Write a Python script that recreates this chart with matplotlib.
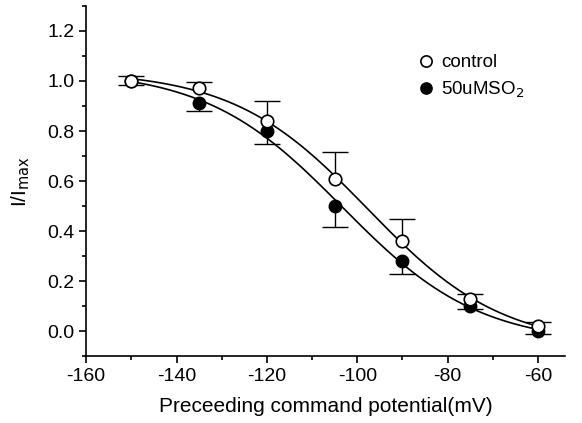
import numpy as np
import matplotlib
matplotlib.use("Agg")
import matplotlib.pyplot as plt
from matplotlib.ticker import MultipleLocator, FormatStrFormatter

plt.rcParams['font.family'] = ['Liberation Sans', 'DejaVu Sans']
plt.rcParams['axes.unicode_minus'] = False

# data
voltage = np.array([-150, -135, -120, -105, -90, -75, -60])
control = np.array([1.00, 0.97, 0.84, 0.61, 0.36, 0.13, 0.02])
control_err = np.array([0.02, 0.025, 0.08, 0.105, 0.09, 0.02, 0.015])
so2 = np.array([1.00, 0.91, 0.80, 0.50, 0.28, 0.10, 0.00])
so2_err = np.array([0.015, 0.03, 0.05, 0.085, 0.05, 0.012, 0.012])


def boltzmann(x, p):
    a1, a2, x0, dx = p
    return a2 + (a1 - a2) / (1 + np.exp((x - x0) / dx))


def fit_boltzmann(x, y, p0):
    # plain Gauss-Newton with numeric jacobian
    p = np.array(p0, dtype=float)
    for _ in range(50):
        r = y - boltzmann(x, p)
        J = np.zeros((len(x), len(p)))
        for i in range(len(p)):
            dp = np.zeros_like(p)
            dp[i] = 1e-6 * max(1.0, abs(p[i]))
            J[:, i] = (boltzmann(x, p + dp) - boltzmann(x, p)) / dp[i]
        step, *_ = np.linalg.lstsq(J, r, rcond=None)
        p = p + 0.7 * step
    return p


def one_sided_errorbar(ax, x, y, err, up=True):
    lo = np.zeros_like(err) if up else err
    hi = err if up else np.zeros_like(err)
    _, caps, _ = ax.errorbar(x, y, yerr=[lo, hi], fmt='none', ecolor='k',
                             elinewidth=1, capsize=9.5, capthick=1)
    # hide the caps sitting on the points themselves
    for c in caps:
        if np.allclose(c.get_ydata(), y):
            c.set_visible(False)


p_ctrl = fit_boltzmann(voltage, control, [1.02, 0.0, -100, 13])
p_so2 = fit_boltzmann(voltage, so2, [1.02, 0.0, -104, 13])

fig = plt.figure(figsize=(5.82, 4.23), dpi=100)
ax = fig.add_axes([0.148, 0.158, 0.823, 0.828])

xx = np.linspace(-150, -60, 300)
ax.plot(xx, boltzmann(xx, p_ctrl), color='k', lw=1.2)
ax.plot(xx, boltzmann(xx, p_so2), color='k', lw=1.2)

# control bars go up, SO2 bars go down
one_sided_errorbar(ax, voltage, control, control_err, up=True)
one_sided_errorbar(ax, voltage, so2, so2_err, up=False)

ax.plot(voltage, so2, 'o', ms=9, mfc='k', mec='k', label='50uMSO$_2$', zorder=4)
ax.plot(voltage, control, 'o', ms=9, mfc='white', mec='k', mew=1.2,
        label='control', zorder=5)

h, l = ax.get_legend_handles_labels()
ax.legend(h[::-1], l[::-1], loc='upper left', bbox_to_anchor=(0.655, 0.91),
          frameon=False, fontsize=13.5, handletextpad=0.3, labelspacing=0.45,
          handlelength=1.0, markerscale=0.9)

ax.set_xlim(-160, -54)
ax.set_ylim(-0.1, 1.3)
ax.xaxis.set_major_locator(MultipleLocator(20))
ax.xaxis.set_minor_locator(MultipleLocator(10))
ax.set_yticks([0.0, 0.2, 0.4, 0.6, 0.8, 1.0, 1.2])
ax.yaxis.set_minor_locator(MultipleLocator(0.1))
ax.yaxis.set_major_formatter(FormatStrFormatter('%.1f'))

for s in ['top', 'right']:
    ax.spines[s].set_visible(False)
for s in ['left', 'bottom']:
    ax.spines[s].set_linewidth(1.2)
ax.tick_params(which='major', direction='out', length=5, width=1.2,
               labelsize=14, colors='k')
ax.tick_params(which='minor', direction='out', length=3, width=1.2)

ax.set_xlabel('Preceeding command potential(mV)', fontsize=15, labelpad=9)
ax.set_ylabel('I/I$_{\\mathrm{max}}$', fontsize=15, labelpad=11)

fig.savefig('out.png', dpi=100)
